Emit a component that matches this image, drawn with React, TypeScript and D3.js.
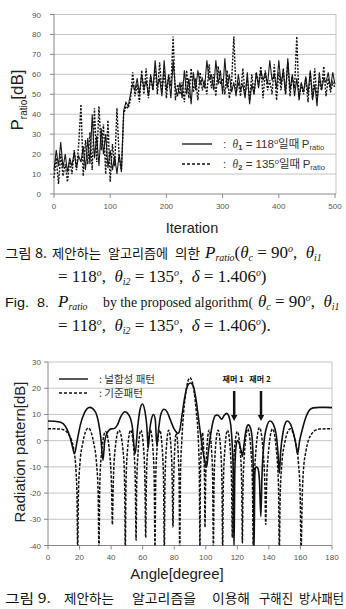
import React from "react";
import * as d3 from "d3";

// P_ratio per iteration, sampled every 4 iterations (0..500)
const ITER_STEP = 4;
const ratioTheta1 = [
  12, 22, 14, 26, 13, 20, 11, 18, 14, 21, 13, 19, 16, 24, 12, 28, 15, 40, 18, 29,
  14, 33, 20, 30, 13, 22, 12, 19, 10, 20, 11,
  42, 46, 44, 50, 55, 52, 58, 50, 60, 53, 57, 49, 60, 52, 67, 54, 58, 49, 67, 52,
  59, 48, 67, 53, 49, 56, 48, 62, 50, 58, 45, 61, 52, 62, 55, 58, 53, 67, 57, 60,
  52, 67, 55, 62, 50, 68, 53, 60, 51, 56, 49, 60, 52, 55, 48, 61, 45, 55, 50, 61,
  53, 62, 57, 61, 55, 67, 57, 60, 53, 67, 55, 62, 50, 68, 52, 60, 49, 58, 48, 56,
  51, 59, 50, 62, 47, 55, 44, 61, 52, 58, 56, 61, 53, 61, 55,
];
const ratioTheta2 = [
  8, 18, 5, 20, 9, 15, 6, 17, 10, 22, 12, 25, 45, 9, 27, 15, 31, 12, 43, 16,
  44, 22, 35, 10, 37, 6, 25, 14, 43, 18, 12,
  40, 44, 43, 47, 61, 49, 55, 46, 62, 50, 63, 48, 59, 52, 63, 50, 66, 51, 62, 48,
  60, 54, 79, 47, 55, 50, 56, 46, 62, 48, 63, 51, 58, 47, 61, 52, 57, 50, 65, 53,
  60, 49, 64, 55, 58, 50, 62, 48, 56, 79, 51, 56, 49, 63, 50, 58, 47, 60, 50, 61,
  55, 64, 48, 62, 52, 57, 50, 65, 47, 61, 52, 63, 50, 66, 49, 59, 53, 79, 47, 55,
  50, 58, 46, 61, 48, 63, 47, 57, 52, 64, 49, 58, 51, 56, 53,
];
const ratioTicks = [0, 10, 20, 30, 40, 50, 60, 70, 80, 90];
const iterTicks = [0, 100, 200, 300, 400, 500];

// radiation patterns [angle (deg), dB]
const nullPattern: [number, number][] = [
  [0, 7.5], [4, 7.4], [8, 7], [11, 5.5], [13, 3], [15, -1], [16.8, -5],
  [18.5, 0], [20.5, 6], [23, 10.5], [26.5, 12.7], [30, 11], [32, 7], [33.5, 1], [34.8, -7.5],
  [36, 0], [38, 3.5], [40, 4.5], [42, 4.6], [44, 6], [46, 9], [48.8, 11], [51.5, 9.5], [53.5, 5], [55.2, -5],
  [56.8, 5], [58.2, 11.5], [59.8, 14], [61.5, 11], [62.7, 5], [63.5, -3],
  [64.5, 4], [65.5, 8], [66.8, 10], [68, 8], [69, -2],
  [70.2, 5], [71.5, 10], [73.5, 12], [75.5, 11], [77.5, 8], [79.5, 5], [81, 3.5], [82.3, 2.8],
  [83.5, 4], [85, 10], [86.5, 16], [88.5, 21], [90.2, 22], [92, 21], [94, 15], [95.5, 8], [97, 1],
  [98.5, -5], [99.8, -9], [100.6, -10],
  [101.5, -5], [103, 2], [104.5, 7], [106, 9.5], [107.3, 9.8], [108.5, 9.3], [110, 8.2], [111.5, 9.5],
  [113.2, 10.4], [114.5, 9.5], [115.8, 6], [116.8, -2], [117.5, -15], [117.9, -42],
  [118.4, -12], [119.2, -2], [120.2, 0], [121.2, -1], [122.5, -4], [123.3, -6],
  [124.3, -1], [125.5, 4], [127, 6], [128.5, 4.5], [129.5, 0], [130.2, -15], [130.6, -42],
  [131.1, -12], [132, -10], [133, -10.5], [134, -15], [134.9, -29], [135.7, -12], [136.7, -2],
  [138.5, 5], [140.7, 7.5], [143, 6], [144.7, 2], [145.8, -5], [146.6, -12.5],
  [147.5, -4], [148.8, 2.5], [150, 6], [151.7, 7.5], [153.5, 6.5], [155.5, 3], [157, -1], [158.2, -5],
  [159.5, 0], [161.5, 5], [163.5, 9], [165.5, 11.5], [168, 12.5], [172, 12.7], [176, 12.7], [180, 12.6],
];
const refPattern: [number, number][] = [
  [0, 4.5], [4, 4.5], [8, 4.4], [11, 3.8], [13, 2.5], [15, 0], [16.5, -4], [17.8, -12], [18.4, -22], [18.8, -42],
  [19.3, -20], [20.2, -9], [22, -1], [25.5, 4.8], [29, -1], [30.8, -9], [31.8, -20], [32.3, -42],
  [32.8, -18], [33.6, -7], [36.5, 3.5], [39.4, -7], [40.3, -18], [40.8, -32],
  [41.3, -18], [42.1, -6], [45, 4], [47.9, -6], [48.6, -18], [49, -42],
  [49.4, -18], [50.1, -6], [52.4, 4], [54.7, -6], [55.4, -18], [55.8, -38],
  [56.2, -18], [56.9, -6], [58.9, 4], [60.9, -6], [61.5, -18], [61.9, -37],
  [62.3, -18], [62.9, -6], [64.9, 4], [66.8, -6], [67.4, -18], [67.8, -42],
  [68.2, -18], [68.8, -6], [70.8, 4], [72.7, -6], [73.3, -18], [73.7, -42],
  [74.1, -18], [74.7, -6], [76.5, 4], [78.3, -6], [78.8, -18], [79.2, -33],
  [79.6, -16], [80.2, -5], [81.3, 3], [82.5, -5], [83.1, -16], [83.5, -42],
  [84, -12], [84.8, 0], [86, 11], [87.5, 19], [90, 24], [92.5, 19], [94, 11], [95.3, 0], [95.9, -12], [96.3, -42],
  [96.6, -14], [97.1, -4], [97.9, 3], [98.7, -4], [99.2, -14], [99.5, -33],
  [99.9, -16], [100.5, -5], [102.1, 4], [103.8, -5], [104.4, -16], [104.8, -42],
  [105.2, -18], [105.8, -6], [107.8, 4], [109.7, -6], [110.3, -18], [110.7, -42],
  [111.1, -18], [111.8, -6], [113.8, 4], [115.8, -6], [116.4, -18], [116.8, -37],
  [117.2, -18], [117.9, -6], [120, 3.5], [122.1, -6], [122.8, -18], [123.2, -39],
  [123.6, -18], [124.4, -6], [126.6, 4.5], [128.9, -6], [129.6, -18], [130.1, -42],
  [130.6, -18], [131.5, -6], [134, 5], [136.6, -6], [137.5, -18], [138, -32],
  [138.5, -18], [139.5, -6], [142.3, 4.5], [145.1, -6], [146.1, -18], [146.6, -42],
  [147.2, -20], [148.2, -9], [150, -1], [153.5, 4.5], [157, -1], [158.8, -9], [159.8, -20], [160.4, -42],
  [161.1, -22], [161.8, -12], [163.5, -4], [165, 0], [167, 2.5], [169, 3.8], [172, 4.4], [176, 4.5], [180, 4.5],
];
const patternTicks = [-40, -30, -20, -10, 0, 10, 20, 30];
const angleTicks = [0, 20, 40, 60, 80, 100, 120, 140, 160, 180];
const jammerAngles = [118, 135];
const jammerLabels = ["재머 1", "재머 2"];

const SANS = "'Liberation Sans', Arial, sans-serif";
const SERIF = "'Liberation Serif', 'DejaVu Serif', serif";
const KR = "'Noto Sans CJK KR', sans-serif";
const GRID = "#c4c4c4";
const TICK_TXT = "#555";
const S = "\u00a0";

// a run of inline math: each piece is upright/italic, optionally sub- or superscripted
type Seg = { t: string; it?: boolean; sub?: boolean; sup?: boolean };
const it = (t: string): Seg => ({ t, it: true });
const sub = (t: string): Seg => ({ t, it: true, sub: true });
const sup = (t: string): Seg => ({ t, it: true, sup: true });
const rm = (t: string): Seg => ({ t });

function MathText({ x, y, segs, size = 17 }: { x: number; y: number; segs: Seg[]; size?: number }) {
  let cur = 0;
  return (
    <text x={x} y={y} fontFamily={SERIF} fontSize={size} fill="#111">
      {segs.map((s, i) => {
        const target = s.sub ? size * 0.2 : s.sup ? -size * 0.36 : 0;
        const dy = target - cur;
        cur = target;
        return (
          <tspan key={i} dy={dy} fontStyle={s.it ? "italic" : "normal"} fontSize={s.sub || s.sup ? size * 0.58 : size}>
            {s.t}
          </tspan>
        );
      })}
    </text>
  );
}

const headSegs: Seg[] = [
  it("θ"), sub("c"), rm(`${S}=${S}90`), sup("o"), rm(`,${S}${S}`), it("θ"), sub("i1"),
];
const tailSegs = (end: string): Seg[] => [
  rm(`=${S}118`), sup("o"), rm(`,${S}${S}`), it("θ"), sub("i2"), rm(`${S}=${S}135`), sup("o"),
  rm(`,${S}${S}`), it("δ"), rm(`${S}=${S}1.406`), sup("o"), rm(`)${end}`),
];
const pRatio: Seg[] = [it("P"), sub("ratio")];

function Word({ x, y, w, children, font = KR, size = 13 }: any) {
  return (
    <text x={x} y={y} fontFamily={font} fontSize={size} fill="#111" textLength={w} lengthAdjust="spacingAndGlyphs">
      {children}
    </text>
  );
}

function RatioChart() {
  const x = d3.scaleLinear().domain([0, 500]).range([54, 335]);
  const y = d3.scaleLinear().domain([0, 90]).range([194, 14.5]);
  const line = d3
    .line<number>()
    .x((_, i) => x(i * ITER_STEP))
    .y((d) => y(d));
  const [x0, x1] = x.range();
  return (
    <g>
      {ratioTicks.map((t) => (
        <g key={t}>
          {t > 0 && <line x1={x0} x2={x1 + 1} y1={y(t)} y2={y(t)} stroke={GRID} strokeWidth={1} />}
          <line x1={x0 - 4} x2={x0} y1={y(t)} y2={y(t)} stroke="#888" />
          <text x={41} y={y(t) + 3} textAnchor="end" fontFamily={SANS} fontSize={8} fill={TICK_TXT}>
            {t}
          </text>
        </g>
      ))}
      <line x1={x1 + 1} x2={x1 + 1} y1={y(90)} y2={y(0)} stroke={GRID} />
      <line x1={x0} x2={x0} y1={y(90)} y2={y(0)} stroke="#888" />
      <line x1={x0} x2={x1 + 1} y1={y(0)} y2={y(0)} stroke="#888" />
      {iterTicks.map((t) => (
        <g key={t}>
          <line x1={x(t)} x2={x(t)} y1={y(0)} y2={y(0) + 4} stroke="#888" />
          <text x={x(t)} y={209} textAnchor="middle" fontFamily={SANS} fontSize={8} fill={TICK_TXT}>
            {t}
          </text>
        </g>
      ))}
      <path d={line(ratioTheta1) ?? ""} fill="none" stroke="#1a1a1a" strokeWidth={1.1} />
      <path d={line(ratioTheta2) ?? ""} fill="none" stroke="#111" strokeWidth={1.4} strokeDasharray="2,1.4" />

      {/* legend */}
      <line x1={182} x2={212} y1={144} y2={144} stroke="#111" strokeWidth={1.3} />
      <line x1={182} x2={212} y1={164} y2={164} stroke="#111" strokeWidth={1.3} strokeDasharray="3,2" />
      {[
        { sub: "1", deg: "118", y: 148 },
        { sub: "2", deg: "135", y: 168 },
      ].map((r) => (
        <text key={r.sub} x={223} y={r.y} fontFamily={SANS} fontSize={11.5} fill="#333">
          <tspan>:{S}{S}</tspan>
          <tspan fontFamily={SERIF} fontStyle="italic">θ</tspan>
          <tspan fontSize={7.5} fontWeight="bold" dy={2}>{r.sub}</tspan>
          <tspan dy={-2}>{S}={S}{r.deg}</tspan>
          <tspan fontSize={7.5} dy={-4}>o</tspan>
          <tspan dy={4} fontFamily={KR}>일때{S}</tspan>
          <tspan>P</tspan>
          <tspan fontSize={7.5} dy={2}>ratio</tspan>
        </text>
      ))}

      <text transform="translate(23,100) rotate(-90)" textAnchor="middle" fontFamily={SANS} fontSize={17} fill="#222">
        <tspan>P</tspan>
        <tspan fontSize={10} dy={4}>ratio</tspan>
        <tspan dy={-4}>[dB]</tspan>
      </text>
      <text x={192} y={233} textAnchor="middle" fontFamily={SANS} fontSize={14.5} fill="#222">
        Iteration
      </text>
    </g>
  );
}

function PatternChart() {
  const x = d3.scaleLinear().domain([0, 180]).range([48, 332]);
  const y = d3.scaleLinear().domain([-40, 30]).range([545.5, 362]);
  const line = d3
    .line<[number, number]>()
    .x((d) => x(d[0]))
    .y((d) => y(d[1]))
    .curve(d3.curveMonotoneX);
  const [x0, x1] = x.range();
  return (
    <g>
      <defs>
        <clipPath id="pat-clip">
          <rect x={x0} y={y(30)} width={x1 - x0} height={y(-40) - y(30)} />
        </clipPath>
      </defs>
      {patternTicks.map((t) => (
        <g key={t}>
          {t > -40 && <line x1={x0} x2={x1} y1={y(t)} y2={y(t)} stroke={GRID} />}
          <line x1={x0 - 4} x2={x0} y1={y(t)} y2={y(t)} stroke="#888" />
          <text x={41} y={y(t) + 3} textAnchor="end" fontFamily={SANS} fontSize={8} fill={TICK_TXT}>
            {t}
          </text>
        </g>
      ))}
      <line x1={x1} x2={x1} y1={y(30)} y2={y(-40)} stroke={GRID} />
      <line x1={x0} x2={x0} y1={y(30)} y2={y(-40)} stroke="#888" />
      <line x1={x0} x2={x1} y1={y(-40)} y2={y(-40)} stroke="#888" />
      {angleTicks.map((t) => (
        <g key={t}>
          <line x1={x(t)} x2={x(t)} y1={y(-40)} y2={y(-40) + 4} stroke="#888" />
          <text x={x(t)} y={560} textAnchor="middle" fontFamily={SANS} fontSize={8} fill={TICK_TXT}>
            {t}
          </text>
        </g>
      ))}
      <g clipPath="url(#pat-clip)">
        <path d={line(refPattern) ?? ""} fill="none" stroke="#111" strokeWidth={1.5} strokeDasharray="3,1.5" />
        <path d={line(nullPattern) ?? ""} fill="none" stroke="#111" strokeWidth={1.6} />
      </g>

      {/* legend */}
      <line x1={59} x2={88} y1={379} y2={379} stroke="#111" strokeWidth={1.4} />
      <line x1={59} x2={88} y1={393} y2={393} stroke="#111" strokeWidth={1.4} strokeDasharray="3,2" />
      <text x={99} y={383} fontFamily={KR} fontSize={10.5} fill="#333">:{S}널합성{S}패턴</text>
      <text x={99} y={397} fontFamily={KR} fontSize={10.5} fill="#333">:{S}기준패턴</text>

      {/* jammer arrows */}
      {jammerAngles.map((a, i) => (
        <g key={a}>
          <text x={x(a) - 1} y={382} textAnchor="middle" fontFamily={KR} fontWeight="bold" fontSize={8} fill="#111">
            {jammerLabels[i]}
          </text>
          <line x1={x(a)} x2={x(a)} y1={391} y2={416} stroke="#111" strokeWidth={2.5} />
          <path d={`M${x(a) - 3.2},415 L${x(a) + 3.2},415 L${x(a)},421 Z`} fill="#111" />
        </g>
      ))}

      <text transform="translate(25,452) rotate(-90)" textAnchor="middle" fontFamily={SANS} fontSize={15} fill="#222">
        Radiation pattern[dB]
      </text>
      <text x={177} y={579} textAnchor="middle" fontFamily={SANS} fontSize={15} fill="#222">
        Angle[degree]
      </text>
    </g>
  );
}

export default function App() {
  return (
    <svg
      width={346}
      height={609}
      viewBox="0 0 346 609"
      style={{ position: "absolute", left: 0, top: 0, background: "#fff" }}
    >
      <RatioChart />

      {/* figure 8 caption */}
      <Word x={5} y={258} w={42}>그림 8.</Word>
      <Word x={52} y={258} w={49}>제안하는</Word>
      <Word x={108} y={258} w={60}>알고리즘에</Word>
      <Word x={175} y={258} w={25}>의한</Word>
      <MathText x={205} y={258} segs={[...pRatio, rm("("), ...headSegs]} />
      <MathText x={58} y={282} segs={tailSegs("")} />
      <Word x={5} y={307} w={44} font={SANS}>Fig.{S}{S}8.</Word>
      <MathText x={58} y={307} segs={pRatio} />
      <Word x={103} y={307} w={150} font={SERIF} size={14}>by the proposed algorithm(</Word>
      <MathText x={258} y={307} segs={headSegs} />
      <MathText x={58} y={331} segs={tailSegs(".")} />

      <PatternChart />

      {/* figure 9 caption */}
      <Word x={5} y={603} w={46}>그림 9.</Word>
      <Word x={64} y={603} w={50}>제안하는</Word>
      <Word x={132} y={603} w={64}>알고리즘을</Word>
      <Word x={212} y={603} w={38}>이용해</Word>
      <Word x={259} y={603} w={34}>구해진</Word>
      <Word x={299} y={603} w={45}>방사패턴</Word>
    </svg>
  );
}
